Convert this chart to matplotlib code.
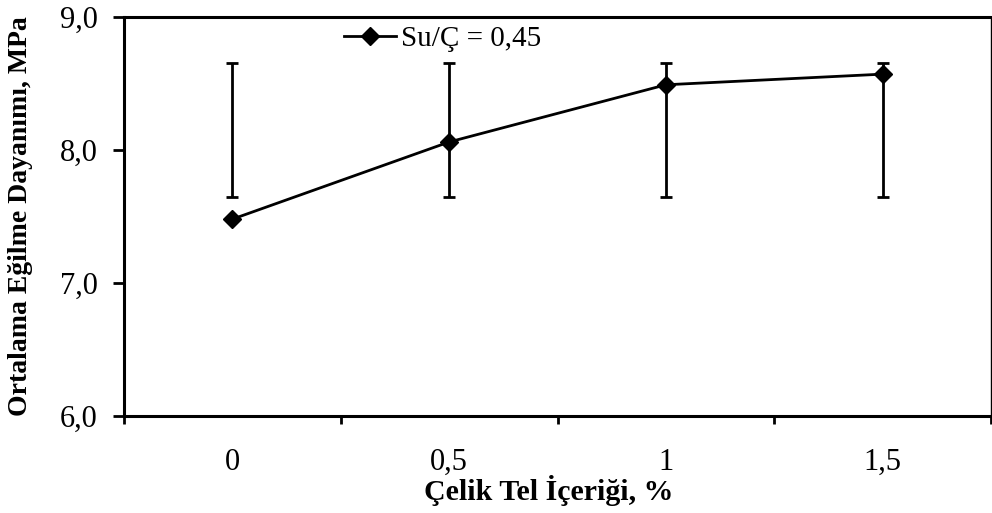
import matplotlib
matplotlib.use('Agg')
import matplotlib.pyplot as plt
import numpy as np

# Veri
categories = ['0', '0,5', '1', '1,5']
mean_strength = [7.48, 8.06, 8.49, 8.57]
bar_low = [7.65, 7.65, 7.65, 7.65]
bar_high = [8.65, 8.65, 8.65, 8.65]
y_ticks = [6.0, 7.0, 8.0, 9.0]

plt.rcParams['font.family'] = ['Liberation Serif', 'DejaVu Serif']

fig = plt.figure(figsize=(9.92, 5.13), dpi=100)
ax = fig.add_axes([0.125, 0.189, 0.874, 0.778])

x = np.arange(len(categories))
mean = np.array(mean_strength)
lo = np.array(bar_low)
hi = np.array(bar_high)
# hata çubukları sabit sınırlar arasında çiziliyor (orijinal grafikteki gibi)
ax.errorbar(x, (lo + hi) / 2, yerr=(hi - lo) / 2, fmt='none', ecolor='black',
            elinewidth=2.0, capsize=4.5, capthick=2.0, zorder=2)
ax.plot(x, mean, color='black', linewidth=2.0, marker='D', markersize=9,
        label='Su/Ç = 0,45', zorder=3)

ax.set_xlim(-0.5, len(categories) - 0.5)
ax.set_ylim(6.0, 9.0)
ax.set_yticks(y_ticks)
ax.set_yticklabels([f'{v:.1f}'.replace('.', ',') for v in y_ticks], fontsize=22)

# x: işaretler kategoriler arasında, etiketler ortada
ax.set_xticks(np.arange(-0.5, len(categories), 1.0))
ax.set_xticklabels([])
ax.set_xticks(x, minor=True)
ax.set_xticklabels(categories, minor=True, fontsize=22)
ax.tick_params(axis='x', which='major', direction='out', length=6, width=2.0)
ax.tick_params(axis='x', which='minor', length=0, pad=23)
ax.tick_params(axis='y', direction='out', length=8, width=2.0, pad=11)

for side in ['left', 'bottom', 'top']:
    ax.spines[side].set_linewidth(2.2)
ax.spines['right'].set_linewidth(1.0)

ax.set_xlabel('Çelik Tel İçeriği, %', fontsize=21.5, fontweight='bold', va='center')
ax.xaxis.set_label_coords(0.490, -0.1855)
ax.set_ylabel('Ortalama Eğilme Dayanımı, MPa', fontsize=20, fontweight='bold', va='center')
ax.yaxis.set_label_coords(-0.1198, 0.5)

ax.legend(loc='upper left', bbox_to_anchor=(0.230, 1.03), frameon=False, fontsize=21,
          handlelength=1.8, handletextpad=0.17, borderaxespad=0.3)

plt.savefig('out.png', dpi=100)
plt.close()
